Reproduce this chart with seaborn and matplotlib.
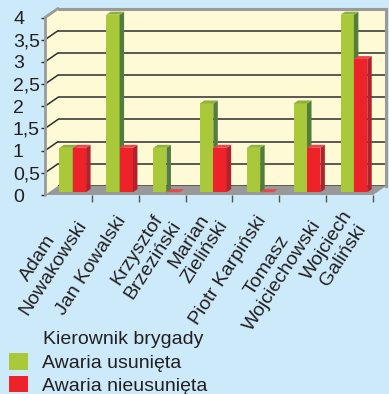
import numpy as np
import pandas as pd
import seaborn as sns
import matplotlib
matplotlib.use("Agg")
import matplotlib.pyplot as plt
from matplotlib.patches import Polygon, Patch, Rectangle
from matplotlib.transforms import ScaledTranslation, IdentityTransform
from matplotlib.lines import Line2D

# ---------------- data ----------------
categories = ["Adam\nNowakowski", "Jan Kowalski", "Krzysztof\nBrzeziński",
              "Marian\nZieliński", "Piotr Karpiński", "Tomasz\nWojciechowski",
              "Wojciech\nGaliński"]
usunieta = [1, 4, 1, 2, 1, 2, 4]
nieusunieta = [1, 1, 0, 1, 0, 1, 3]
series_names = ["Awaria usunięta", "Awaria nieusunięta"]
legend_title = "Kierownik brygady"
yticks = [0, 0.5, 1, 1.5, 2, 2.5, 3, 3.5, 4]
ytick_labels = ["0", "0,5", "1", "1,5", "2", "2,5", "3", "3,5", "4"]

# ---------------- style ----------------
W, H = 389, 394
BG = "#cceaf9"
WALL = "#fffad6"
GRID = "#2e2e2e"
EDGE = "#9a9a9a"
FLOOR = "#999999"
GREEN = "#a9c93b"
GREEN_SIDE = "#527d3d"
GREEN_TOP = "#8fb23f"
RED = "#ee2229"
RED_SIDE = "#b0232c"
RED_TOP = "#e8474d"
TXT = "#231f20"
FS = 14

sns.set_theme(style="white")
plt.rcParams["font.family"] = ["Liberation Sans", "DejaVu Sans"]
plt.rcParams["text.color"] = TXT
plt.rcParams["xtick.color"] = TXT
plt.rcParams["ytick.color"] = TXT

fig = plt.figure(figsize=(W / 100, H / 100), dpi=100, facecolor=BG)

# geometry of the front plane (pixels from top-left) and depth offset
fx0, fx1 = 45, 373
fy_top, fy_bot = 17.5, 195
DX, DY = 13, 9
BX, BY = 4.3, 2.8       # bars sit slightly behind the front plane
SD, SDY = 4.5, 3.0      # bar depth

ax_back = fig.add_axes([(fx0 + DX) / W, (H - fy_bot + DY) / H,
                        (fx1 - fx0) / W, (fy_bot - fy_top) / H], zorder=0)
ax = fig.add_axes([fx0 / W, (H - fy_bot) / H,
                   (fx1 - fx0) / W, (fy_bot - fy_top) / H], zorder=1)

n = len(categories)
for a in (ax_back, ax):
    a.set_xlim(-0.5, n - 0.5)
    a.set_ylim(0, 4)

# back wall
ax_back.set_facecolor(WALL)
ax_back.set_yticks(yticks)
ax_back.set_xticks([])
ax_back.tick_params(left=False, labelleft=False)
ax_back.grid(axis="y", color=GRID, lw=1.1)
for s in ("left", "bottom"):
    ax_back.spines[s].set_visible(False)
for s in ("top", "right"):
    ax_back.spines[s].set_color(EDGE)
    ax_back.spines[s].set_linewidth(2.2)

# front axes with bars
ax.set_facecolor("none")
for s in ax.spines.values():
    s.set_visible(False)

df = pd.DataFrame({
    "Kierownik": categories * 2,
    "Seria": [series_names[0]] * n + [series_names[1]] * n,
    "Liczba": usunieta + nieusunieta,
})
sns.barplot(data=df, x="Kierownik", y="Liczba", hue="Seria",
            palette=[GREEN, RED], width=0.57, saturation=1, ax=ax,
            legend=False, linewidth=0)
bars = [p for p in ax.patches if isinstance(p, Rectangle)]
ax.set_xlim(-0.5, n - 0.5)
ax.set_ylim(0, 4)
ax.set_xlabel("")
ax.set_ylabel("")

ident = IdentityTransform()
T = ax.transAxes


def disp(xa, ya, t):
    px, py = T.transform((xa, ya))
    return (px + t * DX, py + t * DY)


# left wall and floor
ax.add_patch(Polygon([disp(0, 0, 0), disp(0, 1, 0), disp(0, 1, 1), disp(0, 0, 1)],
                     closed=True, transform=ident, facecolor=WALL, edgecolor="none",
                     zorder=0.5, clip_on=False))
for yv in yticks[1:]:
    ya = yv / 4
    p0, p1 = disp(0, ya, 0), disp(0, ya, 1)
    ax.add_line(Line2D([p0[0], p1[0]], [p0[1], p1[1]], transform=ident,
                       color=GRID, lw=1.1, zorder=0.7, clip_on=False))
ax.add_patch(Polygon([disp(0, 0, 0), disp(1, 0, 0), disp(1, 0, 1), disp(0, 0, 1)],
                     closed=True, transform=ident, facecolor=FLOOR, edgecolor="none",
                     zorder=0.8, clip_on=False))
# wall edges
for (a, b) in [((0, 0, 0), (0, 1, 0)), ((0, 1, 0), (0, 1, 1))]:
    p0, p1 = disp(*a), disp(*b)
    ax.add_line(Line2D([p0[0], p1[0]], [p0[1], p1[1]], transform=ident,
                       color=EDGE, lw=2, zorder=0.9, clip_on=False))

# bars: shift and add 3D side / top faces
off = ScaledTranslation(BX / 100, BY / 100, fig.dpi_scale_trans)
for i, p in enumerate(bars):
    green = i < n
    z = 3 if green else 4
    x0 = p.get_x()
    w = p.get_width()
    h = p.get_height()
    p.set_transform(ax.transData + off)
    p.set_zorder(z)
    p.set_clip_on(False)
    (dx0, dy0), (dx1, dy1) = ax.transData.transform([(x0, 0), (x0 + w, h)])
    dx0 += BX; dx1 += BX; dy0 += BY; dy1 += BY
    side = [(dx1, dy0), (dx1 + SD, dy0 + SDY), (dx1 + SD, dy1 + SDY), (dx1, dy1)]
    top = [(dx0, dy1), (dx1, dy1), (dx1 + SD, dy1 + SDY), (dx0 + SD, dy1 + SDY)]
    ax.add_patch(Polygon(side, closed=True, transform=ident,
                         facecolor=GREEN_SIDE if green else RED_SIDE,
                         edgecolor="none", zorder=z, clip_on=False))
    ax.add_patch(Polygon(top, closed=True, transform=ident,
                         facecolor=GREEN_TOP if green else RED_TOP,
                         edgecolor="none", zorder=z, clip_on=False))

# ticks (y labels left-aligned at the figure's left margin)
ax.set_yticks(yticks)
ax.set_yticklabels(ytick_labels, fontsize=FS, ha="left")
label_left_px = 13
tick_len_px = 4
ax.tick_params(axis="y", left=True, length=tick_len_px * 0.72, width=1, color=GRID,
               pad=(fx0 - label_left_px - tick_len_px) * 0.72)
ax.set_xticks(range(n))
ax.set_xticklabels(categories, fontsize=FS, rotation=57, ha="right",
                   va="center", rotation_mode="anchor", linespacing=1.15)
ax.tick_params(axis="x", which="major", length=0, pad=16)
ax.set_xticks([k + 0.5 for k in range(n)], minor=True)
ax.tick_params(axis="x", which="minor", bottom=True, length=5, width=1,
               color="#555555", direction="out")
for lbl in ax.get_xticklabels():
    lbl.set_multialignment("center")
    lbl.set_transform(lbl.get_transform() +
                      ScaledTranslation(7 / 100, 0, fig.dpi_scale_trans))

# legend
fig.text(43 / W, 1 - 339 / H, legend_title, fontsize=FS, va="center", ha="left")
handles = [Patch(facecolor=GREEN, edgecolor="none"), Patch(facecolor=RED, edgecolor="none")]
fig.legend(handles, series_names, loc="upper left",
           bbox_to_anchor=(9 / W, 1 - 353 / H), frameon=False, fontsize=FS,
           handlelength=0.98, handleheight=0.95, handletextpad=0.72,
           labelspacing=0.18, borderpad=0, borderaxespad=0)

fig.savefig("out.png", dpi=100, facecolor=BG)
